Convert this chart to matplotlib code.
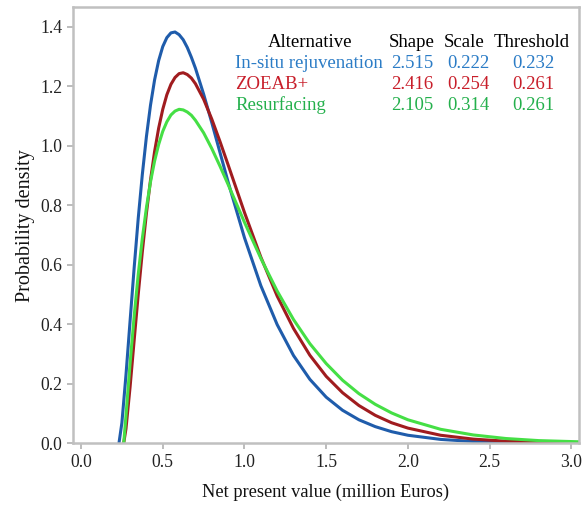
import matplotlib
matplotlib.use("Agg")
import matplotlib.pyplot as plt
from matplotlib.ticker import FormatStrFormatter

plt.rcParams['font.family'] = ['Liberation Serif', 'DejaVu Serif']

# Courbes (densite de probabilite)
x_blue = [0.232, 0.25, 0.275, 0.30, 0.325, 0.35, 0.375, 0.40, 0.425, 0.45, 0.475, 0.50,
          0.525, 0.55, 0.575, 0.60, 0.625, 0.65, 0.675, 0.70, 0.75, 0.80, 0.85, 0.90,
          1.00, 1.10, 1.20, 1.30, 1.40, 1.50, 1.60, 1.70, 1.80, 1.90, 2.00, 2.20,
          2.40, 2.60, 2.80, 3.05]
y_blue = [0.0, 0.069, 0.230, 0.411, 0.590, 0.757, 0.904, 1.031, 1.137, 1.222, 1.287, 1.334,
          1.364, 1.380, 1.383, 1.374, 1.357, 1.331, 1.298, 1.261, 1.174, 1.078, 0.978, 0.878,
          0.691, 0.530, 0.399, 0.295, 0.215, 0.155, 0.111, 0.079, 0.056, 0.039, 0.027, 0.013,
          0.006, 0.003, 0.001, 0.0005]

x_red = [0.261, 0.275, 0.30, 0.325, 0.35, 0.375, 0.40, 0.425, 0.45, 0.475, 0.50, 0.525,
         0.55, 0.575, 0.60, 0.625, 0.65, 0.675, 0.70, 0.75, 0.80, 0.85, 0.90, 1.00,
         1.10, 1.20, 1.30, 1.40, 1.50, 1.60, 1.70, 1.80, 1.90, 2.00, 2.20, 2.40,
         2.60, 2.80, 3.05]
y_red = [0.0, 0.049, 0.189, 0.346, 0.501, 0.644, 0.773, 0.885, 0.981, 1.060, 1.123, 1.172,
         1.207, 1.230, 1.243, 1.246, 1.240, 1.228, 1.209, 1.157, 1.090, 1.015, 0.936, 0.776,
         0.626, 0.495, 0.386, 0.296, 0.225, 0.170, 0.127, 0.094, 0.069, 0.051, 0.027, 0.014,
         0.007, 0.004, 0.0016]

x_green = [0.261, 0.275, 0.30, 0.325, 0.35, 0.375, 0.40, 0.425, 0.45, 0.475, 0.50, 0.525,
           0.55, 0.575, 0.60, 0.625, 0.65, 0.675, 0.70, 0.75, 0.80, 0.85, 0.90, 1.00,
           1.10, 1.20, 1.30, 1.40, 1.50, 1.60, 1.70, 1.80, 1.90, 2.00, 2.20, 2.40,
           2.60, 2.80, 3.05]
y_green = [0.0, 0.093, 0.268, 0.427, 0.568, 0.689, 0.792, 0.879, 0.949, 1.005, 1.049, 1.081,
           1.104, 1.117, 1.123, 1.121, 1.114, 1.103, 1.086, 1.044, 0.991, 0.932, 0.870, 0.743,
           0.622, 0.512, 0.416, 0.335, 0.268, 0.212, 0.167, 0.131, 0.102, 0.079, 0.047, 0.028,
           0.016, 0.009, 0.005]

alternatives = ["In-situ rejuvenation", "ZOEAB+", "Resurfacing"]
shapes = ["2.515", "2.416", "2.105"]
scales = ["0.222", "0.254", "0.314"]
thresholds = ["0.232", "0.261", "0.261"]

line_colors = ["#1f5cab", "#a01c1f", "#45df45"]
text_colors = ["#2b7cc6", "#c81e2a", "#24b04c"]

fig = plt.figure(figsize=(5.83, 5.08), dpi=100)
ax = fig.add_axes([0.1247, 0.1274, 0.868, 0.8588])

ax.plot(x_blue, y_blue, color=line_colors[0], lw=2.2)
ax.plot(x_red, y_red, color=line_colors[1], lw=2.2)
ax.plot(x_green, y_green, color=line_colors[2], lw=2.2)

ax.set_xlim(-0.051, 3.045)
ax.set_ylim(0, 1.467)
ax.set_xticks([0.0, 0.5, 1.0, 1.5, 2.0, 2.5, 3.0])
ax.set_yticks([0.0, 0.2, 0.4, 0.6, 0.8, 1.0, 1.2, 1.4])
ax.xaxis.set_major_formatter(FormatStrFormatter('%.1f'))
ax.yaxis.set_major_formatter(FormatStrFormatter('%.1f'))

for s in ax.spines.values():
    s.set_color("#c0c0c0")
    s.set_linewidth(1.8)
ax.tick_params(colors="#b0b0b0", labelcolor="#222222", labelsize=12.7, length=4, width=1.2)

ax.set_xlabel("Net present value (million Euros)", fontsize=13.2, color="#111111", labelpad=9)
ax.set_ylabel("Probability density", fontsize=14.5, color="#111111", labelpad=4)

# tableau des parametres
fs = 13.5
hdr_y = 1.332
row_y = [1.261, 1.190, 1.120]
ax.text(1.400, hdr_y, "Alternative", fontsize=fs, ha="center", va="baseline")
ax.text(2.023, hdr_y, "Shape", fontsize=fs, ha="center", va="baseline")
ax.text(2.341, hdr_y, "Scale", fontsize=fs, ha="center", va="baseline")
ax.text(2.758, hdr_y, "Threshold", fontsize=fs, ha="center", va="baseline")
for i in range(3):
    c = text_colors[i]
    ax.text(0.942, row_y[i], alternatives[i], fontsize=fs, ha="left", va="baseline", color=c)
    ax.text(2.024, row_y[i], shapes[i], fontsize=fs, ha="center", va="baseline", color=c)
    ax.text(2.368, row_y[i], scales[i], fontsize=fs, ha="center", va="baseline", color=c)
    ax.text(2.766, row_y[i], thresholds[i], fontsize=fs, ha="center", va="baseline", color=c)

fig.savefig("out.png", dpi=100)
